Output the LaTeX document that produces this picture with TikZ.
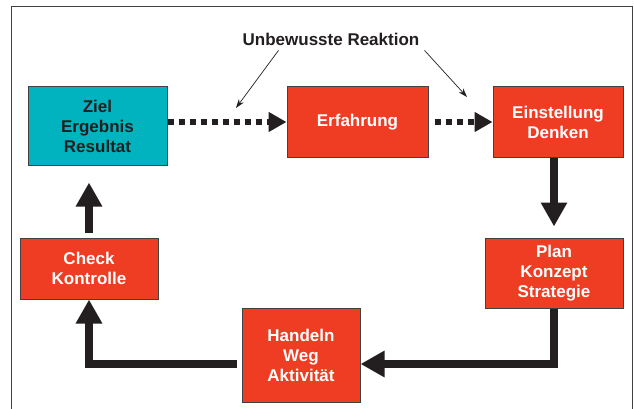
\documentclass[tikz,border=0pt]{standalone}
\usepackage{fontspec}
\setmainfont{Liberation Sans}
\usetikzlibrary{arrows.meta}
\definecolor{boxred}{HTML}{EE3D23}
\definecolor{boxcyan}{HTML}{00B3BF}
\definecolor{ink}{HTML}{231F20}

\begin{document}
\begin{tikzpicture}[x=1pt,y=-1pt,
  box/.style={draw=ink!85,line width=1pt,fill=boxred,text=white,align=center,inner sep=0pt,
    font=\bfseries\fontsize{17}{20}\selectfont},
  flow/.style={draw=ink,line width=8pt,-{Triangle[length=24pt,width=25pt]}},
  hint/.style={draw=ink,line width=6pt,dash pattern=on 6pt off 5pt,-{Triangle[length=18pt,width=19pt]}},
  note/.style={draw=ink,line width=0.7pt,-{Stealth[length=9pt,width=6pt]}}]
\useasboundingbox (0,0) rectangle (634,409);
\fill[white] (0,0) rectangle (634,409);
\draw[ink!85,line width=1pt] (11,7) rectangle (632,430);

\node[box,fill=boxcyan,text=ink,minimum width=139pt,minimum height=78pt] (ziel) at (97.5,126) {Ziel\\Ergebnis\\Resultat};
\node[box,minimum width=141pt,minimum height=70pt] (erf) at (357.5,122) {Erfahrung};
\node[box,minimum width=130pt,minimum height=70pt] (einst) at (558,122) {Einstellung\\Denken};
\node[box,minimum width=138pt,minimum height=70pt] (plan) at (554,273) {Plan\\Konzept\\Strategie};
\node[box,minimum width=118pt,minimum height=94pt] (handeln) at (301,355) {Handeln\\Weg\\Aktivität};
\node[box,minimum width=138pt,minimum height=61pt] (check) at (89,268.5) {Check\\Kontrolle};

\node[text=ink,inner sep=0pt,font=\bfseries\fontsize{17}{20}\selectfont] (unb) at (331,39) {Unbewusste Reaktion};
\coordinate (p1) at (236,108);
\coordinate (p2) at (467,97);

% unconscious path
\draw[hint] (erf.west -| ziel.east) -- (erf.west);
\draw[hint,shorten <=6pt] (erf.east) -- (einst.west);
\draw[note] ([xshift=36pt,yshift=-5pt]unb.south west) -- (p1);
\draw[note] ([xshift=5pt,yshift=-5pt]unb.south east) -- (p2);

% conscious loop
\draw[flow,shorten >=11pt] (einst.south -| plan.north) -- (plan.north);
\draw[flow] (plan.south) |- ([yshift=-9pt]handeln.east);
\draw[flow,shorten <=5pt] ([yshift=-9pt]handeln.west) -| (check.south);
\draw[flow,shorten <=5pt,shorten >=17pt] (check.north) -- (check.north |- ziel.south);
\end{tikzpicture}
\end{document}
